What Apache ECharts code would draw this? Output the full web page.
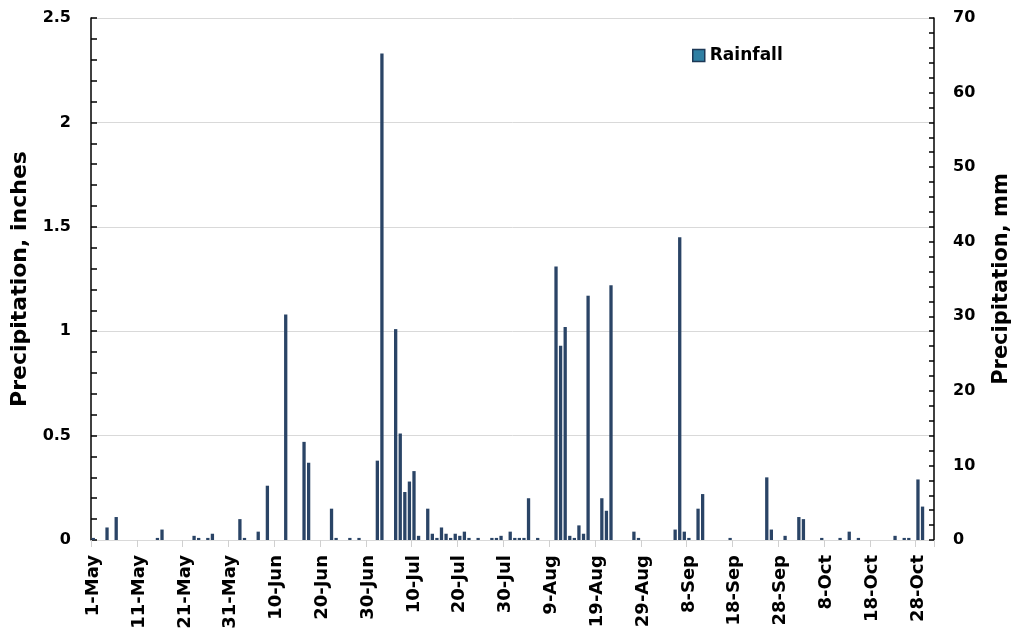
<!DOCTYPE html>
<html>
<head>
<meta charset="utf-8">
<script src="https://cdn.jsdelivr.net/npm/echarts@6/dist/echarts.min.js"></script>
<style>
html,body{margin:0;padding:0;background:#fff;}
#chart{width:1020px;height:634px;}
</style>
</head>
<body>
<div id="chart"></div>
<script>
// Category axis: daily dates 1-May .. 31-Oct
const monthNames = ['May', 'Jun', 'Jul', 'Aug', 'Sep', 'Oct'];
const monthDays = [31, 30, 31, 31, 30, 31];

// Days with rainfall (all other days are zero) and amounts in inches
const rainDays = [
  '1-May','4-May','6-May','15-May','16-May','23-May','24-May','26-May','27-May',
  '2-Jun','3-Jun','6-Jun','8-Jun','12-Jun','16-Jun','17-Jun','22-Jun','23-Jun','26-Jun','28-Jun',
  '2-Jul','3-Jul','6-Jul','7-Jul','8-Jul','9-Jul','10-Jul','11-Jul','13-Jul','14-Jul','15-Jul',
  '16-Jul','17-Jul','18-Jul','19-Jul','20-Jul','21-Jul','22-Jul','24-Jul','27-Jul','28-Jul','29-Jul','31-Jul',
  '1-Aug','2-Aug','3-Aug','4-Aug','6-Aug','10-Aug','11-Aug','12-Aug','13-Aug','14-Aug','15-Aug','16-Aug',
  '17-Aug','20-Aug','21-Aug','22-Aug','27-Aug','28-Aug',
  '5-Sep','6-Sep','7-Sep','8-Sep','10-Sep','11-Sep','17-Sep','25-Sep','26-Sep','29-Sep',
  '2-Oct','3-Oct','7-Oct','11-Oct','13-Oct','15-Oct','23-Oct','25-Oct','26-Oct','28-Oct','29-Oct'
];
const rainInches = [
  0.01,0.06,0.11,0.01,0.05,0.02,0.01,0.01,0.03,
  0.10,0.01,0.04,0.26,1.08,0.47,0.37,0.15,0.01,0.01,0.01,
  0.38,2.33,1.01,0.51,0.23,0.28,0.33,0.02,0.15,0.03,0.01,
  0.06,0.03,0.01,0.03,0.02,0.04,0.01,0.01,0.01,0.01,0.02,0.04,
  0.01,0.01,0.01,0.20,0.01,1.31,0.93,1.02,0.02,0.01,0.07,0.03,
  1.17,0.20,0.14,1.22,0.04,0.01,
  0.05,1.45,0.04,0.01,0.15,0.22,0.01,0.30,0.05,0.02,
  0.11,0.10,0.01,0.01,0.04,0.01,0.02,0.01,0.01,0.29,0.16
];

const leftTicks = { min: 0, max: 2.5, interval: 0.5 };
const rightTicks = { min: 0, max: 70, interval: 10 };

const categories = [];
monthNames.forEach((m, k) => {
  for (let d = 1; d <= monthDays[k]; d++) categories.push(d + '-' + m);
});
const rainMap = {};
rainDays.forEach((d, i) => { rainMap[d] = rainInches[i]; });
const seriesData = categories.map(c => (c in rainMap ? rainMap[c] : 0));

const FONT = 'DejaVu Sans';
const chart = echarts.init(document.getElementById('chart'), null, { renderer: 'canvas' });
chart.setOption({
  animation: false,
  backgroundColor: '#ffffff',
  textStyle: { fontFamily: FONT },
  grid: { left: 91, right: 82, top: 18, bottom: 94, containLabel: false },
  legend: {
    left: 692, top: 47, padding: 0,
    itemWidth: 12, itemHeight: 12, itemGap: 4,
    icon: 'rect',
    textStyle: { fontFamily: FONT, fontWeight: 'bold', fontSize: 17, color: '#000' },
    itemStyle: { color: '#2f7fa3', borderColor: '#1d3856', borderWidth: 1.5 },
    data: ['Rainfall']
  },
  xAxis: {
    type: 'category',
    data: categories,
    boundaryGap: true,
    axisLine: { show: true, lineStyle: { color: '#d9d9d9', width: 1 } },
    axisTick: { show: true, interval: 9, length: 7, lineStyle: { color: '#d0d0d0' } },
    axisLabel: {
      interval: 9, rotate: 90, margin: 15, padding: [6, 0, 0, 0],
      fontFamily: FONT, fontWeight: 'bold', fontSize: 18, color: '#000'
    },
    splitLine: { show: false }
  },
  yAxis: [
    {
      type: 'value',
      position: 'left',
      min: leftTicks.min, max: leftTicks.max, interval: leftTicks.interval,
      name: 'Precipitation, inches',
      nameLocation: 'middle',
      nameGap: 59,
      nameTextStyle: { fontFamily: FONT, fontWeight: 'bold', fontSize: 22, color: '#000' },
      axisLine: { show: true, lineStyle: { color: '#000', width: 1.5 } },
      axisTick: { show: true, inside: true, length: 6, lineStyle: { color: '#000', width: 1.5 } },
      minorTick: { show: true, splitNumber: 5, length: 6, lineStyle: { color: '#000', width: 1.5 } },
      axisLabel: { margin: 20, fontFamily: FONT, fontWeight: 'bold', fontSize: 16, color: '#000' },
      splitLine: { show: true, lineStyle: { color: '#d9d9d9', width: 1 } }
    },
    {
      type: 'value',
      position: 'right',
      alignTicks: false,
      min: rightTicks.min, max: rightTicks.max, interval: rightTicks.interval,
      name: 'Precipitation, mm',
      nameLocation: 'middle',
      nameGap: 57,
      nameTextStyle: { fontFamily: FONT, fontWeight: 'bold', fontSize: 21, color: '#000' },
      axisLine: { show: true, lineStyle: { color: '#000', width: 1.5 } },
      axisTick: { show: true, inside: true, length: 5, lineStyle: { color: '#000', width: 1.5 } },
      minorTick: { show: true, splitNumber: 5, length: 5, lineStyle: { color: '#000', width: 1.5 } },
      axisLabel: { margin: 19, fontFamily: FONT, fontWeight: 'bold', fontSize: 16, color: '#000' },
      splitLine: { show: false }
    }
  ],
  series: [
    {
      name: 'Rainfall',
      type: 'bar',
      yAxisIndex: 0,
      data: seriesData,
      barWidth: 3.3,
      itemStyle: { color: '#2a4466' },
      emphasis: { disabled: true }
    }
  ]
});
</script>
</body>
</html>
